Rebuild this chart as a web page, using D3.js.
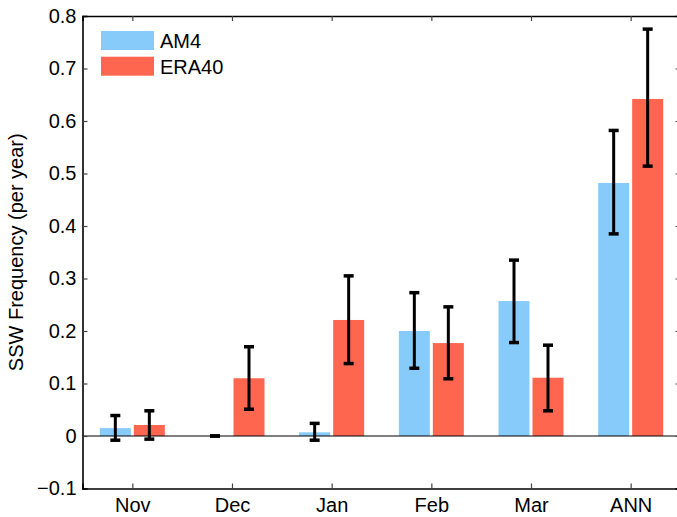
<!DOCTYPE html>
<html><head><meta charset="utf-8">
<script src="https://cdn.jsdelivr.net/npm/d3@7"></script>
<style>body{margin:0;background:#fff}svg{display:block}text{font-family:"Liberation Sans",Arial,sans-serif}</style>
</head><body><svg id="c" width="677" height="517"></svg>
<script>
const categories = ["Nov","Dec","Jan","Feb","Mar","ANN"];
const seriesNames = ["AM4","ERA40"];
const am4 = [0.015, 0.0, 0.007, 0.200, 0.257, 0.482];
const am4Lo = [-0.008, 0.0, -0.008, 0.129, 0.178, 0.385];
const am4Hi = [0.039, 0.0, 0.024, 0.273, 0.335, 0.582];
const era = [0.021, 0.110, 0.221, 0.177, 0.111, 0.642];
const eraLo = [-0.006, 0.051, 0.138, 0.109, 0.048, 0.514];
const eraHi = [0.048, 0.170, 0.305, 0.246, 0.173, 0.775];
const yTicks = [-0.1,0,0.1,0.2,0.3,0.4,0.5,0.6,0.7,0.8];
const colors = ["#87cbfb","#ff6650"];

const svg = d3.select("#c");
const L=82.5, R=680.5, T=16, B=488.5;
const x = d3.scaleLinear().domain([0.5,6.5]).range([L,R]);
const y = d3.scaleLinear().domain([-0.1,0.8]).range([B,T]);
const off = 17, bw = 31;
const FS = 20;

const series = [
  {vals:am4, lo:am4Lo, hi:am4Hi, c:colors[0], o:-off},
  {vals:era, lo:eraLo, hi:eraHi, c:colors[1], o:off}
];
series.forEach(s=>{
  svg.append("g").selectAll("rect").data(s.vals).join("rect")
    .attr("x",(d,i)=>x(i+1)+s.o-bw/2).attr("width",bw)
    .attr("y",d=>y(Math.max(0,d))).attr("height",d=>Math.abs(y(d)-y(0)))
    .attr("fill",s.c);
});
// zero line
svg.append("line").attr("x1",L).attr("x2",R).attr("y1",y(0)).attr("y2",y(0)).attr("stroke","#000").attr("stroke-width",1.2);
// error bars
series.forEach(s=>{
  const g = svg.append("g").attr("stroke","#000").attr("stroke-width",3);
  s.vals.forEach((d,i)=>{
    const cx = x(i+1)+s.o;
    g.append("line").attr("x1",cx).attr("x2",cx).attr("y1",y(s.lo[i])).attr("y2",y(s.hi[i]));
    [s.lo[i],s.hi[i]].forEach(v=>{
      g.append("line").attr("x1",cx-5).attr("x2",cx+5).attr("y1",y(v)).attr("y2",y(v)).attr("stroke-width",3.5);
    });
  });
});
// axes
const tl = 5;
const axL = svg.append("g").attr("transform",`translate(${L},0)`)
  .call(d3.axisLeft(y).tickValues(yTicks).tickSize(-tl).tickPadding(6)
    .tickFormat(d=>d<0?"\u2212"+Math.abs(d).toFixed(1):(d===0?"0":d.toFixed(1))));
const axR = svg.append("g").attr("transform",`translate(${R},0)`)
  .call(d3.axisRight(y).tickValues(yTicks).tickSize(-tl).tickFormat(""));
const axB = svg.append("g").attr("transform",`translate(0,${B})`)
  .call(d3.axisBottom(x).tickValues([1,2,3,4,5,6]).tickSize(-tl).tickPadding(9.5).tickFormat(d=>categories[d-1]));
const axT = svg.append("g").attr("transform",`translate(0,${T})`)
  .call(d3.axisTop(x).tickValues([1,2,3,4,5,6]).tickSize(-tl).tickFormat(""));
[axL,axR,axB,axT].forEach(a=>{
  a.select(".domain").attr("stroke","#000").attr("stroke-width",1.6);
  a.selectAll(".tick line").attr("stroke","#444").attr("stroke-width",1.2);
  a.selectAll("text").attr("font-size",FS).attr("fill","#000").attr("font-family","Liberation Sans, Arial, sans-serif");
});
// y label
svg.append("text").attr("transform",`translate(23,${(T+B)/2}) rotate(-90)`)
  .attr("text-anchor","middle").attr("font-size",FS).text("SSW Frequency (per year)");
// legend
seriesNames.forEach((n,i)=>{
  svg.append("rect").attr("x",101).attr("y",31+i*25.7).attr("width",53).attr("height",19).attr("fill",colors[i]);
  svg.append("text").attr("x",160).attr("y",48+i*25.5).attr("font-size",FS).text(n);
});
</script></body></html>
